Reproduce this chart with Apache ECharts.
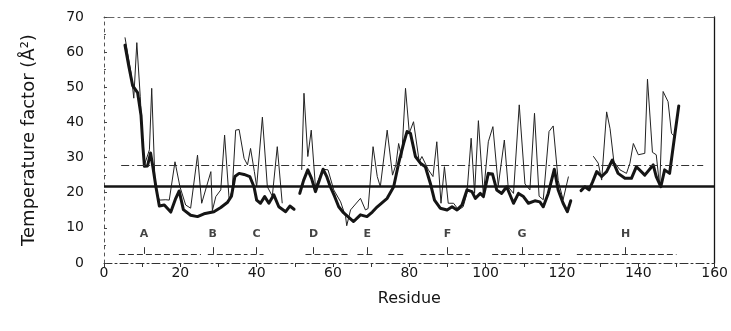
<!DOCTYPE html>
<html><head><meta charset="utf-8">
<script src="https://cdn.jsdelivr.net/npm/echarts@6/dist/echarts.min.js"></script>
<style>html,body{margin:0;padding:0;background:#fff}#c{width:731px;height:331px}</style>
</head><body><div id="c"></div>
<script>
// Main-chain temperature factor (thick line); null = gap
const mainResidue = [5.5,6.5,7.5,8.8,9.7,10.2,10.6,11.4,12.2,12.8,13.6,14.5,15.8,17.5,18.8,19.7,20.8,22.7,24.5,26.2,28.8,30.6,32.3,33.4,34.3,35.4,36.7,38.2,39.3,40,41,42.1,43.2,44.5,45.8,47.6,48.7,49.8,
  50.5,
  51.3,52.3,53.4,54.4,55.4,56.4,57.4,58.4,59.3,60.4,61.5,62.6,63.7,65.4,67.2,68.9,70.3,71.6,74.2,75.9,77.2,78.5,79.4,80.3,81.6,82.9,84.2,85.5,86.6,88.1,89.9,91.2,92.5,93.8,95.1,96.4,97.3,98.6,99.4,100.7,101.8,102.9,104.2,105.5,107.3,108.6,109.9,111.2,112.9,114.2,115.1,116.4,118,119,120.3,121.4,122.3,
  123.5,
  125,126,127.1,128,129.1,130.4,131.7,133.2,134.7,136.5,138.2,139.5,141.7,143.9,144.7,145.9,146.9,148.2,149.5,150.6];
const mainB = [62,56,50.5,48.5,42,33,27.5,27.6,31.3,27.4,21.7,16.2,16.5,14.5,18.4,20.5,15.2,13.6,13.2,14,14.6,15.8,17.2,19,24.6,25.5,25.2,24.6,21.7,17.9,17,18.9,17,19.4,16,14.6,16.2,15.3,
  null,
  19.8,23.5,26.5,24,20.3,23.5,26.7,24.5,21.7,19,16,14.5,13.4,11.8,13.7,13.2,14.5,16,18.4,21.7,28.4,34,37.4,36.9,30.3,28.4,27.4,22.7,17.9,15.6,15.1,16,15.1,16.5,20.8,20.3,18.4,19.8,18.9,25.5,25.3,20.8,19.8,21.7,17,19.8,18.9,17,17.7,17.4,16,19.8,26.7,20.8,17,14.6,17.7,
  null,
  20.6,21.7,20.8,23,26,24.6,26,29.3,25.5,24.1,24.1,27.4,25,27.9,24.6,21.7,26.5,25.5,36,44.7];

// Side-chain temperature factor (thin line); null = gap
const sideResidue = [5.5,7.1,7.8,8.6,9.5,10.5,11.9,12.5,13.4,14.5,16.2,17.1,18.6,19.9,21.4,22.7,24.5,25.6,28,28.4,29.3,30.6,31.6,32.8,33.6,34.5,35.4,36.7,37.6,38.4,39.4,40,41.5,42.8,44.1,45.4,46.7,
  49,
  51.8,52.4,53.4,54.3,55.4,57.4,58.7,60.2,62,63.3,63.6,64.6,67.2,68.5,69.2,70.5,71.6,72.4,74.2,75.6,76.5,77.2,78,79,80,81.1,82.6,83.3,85,86.2,87.2,88.3,89.2,90.2,91.6,92.9,94.1,95.1,96.2,97.1,98.1,99.4,100.7,101.9,103.3,104.9,105.9,107.3,108.8,110.3,111.6,112.8,114,115.1,116.6,117.7,119,120.3,121.7,
  125,
  128.2,129.5,130.4,131.7,132.6,133.6,135.2,136.9,137.8,138.7,140,141.7,142.4,143.7,144.7,145.6,146.5,147.8,148.7,149.5];
const sideB = [64.2,54,46.9,62.7,47.3,27.6,32.2,49.7,21.7,17.9,18,17.9,28.8,21.7,16.5,15.6,30.7,17,26,14.9,18.9,20.8,36.4,17.9,20.8,37.8,38,29.8,27.9,32.6,26,21.7,41.5,21.7,19,33.1,17,
  null,
  26.5,48.3,30.3,37.8,21.7,26.7,26.5,20.8,17.4,13.2,10.6,15.1,18.4,15.1,15.5,33.1,24.6,21.7,37.8,25,28,34,30,49.7,37,40.2,28.8,30.3,26.5,24.6,34.5,17,27.4,17,17,15.1,16,19.8,35.5,19.8,40.5,19.4,34.5,38.8,22,35,21.7,19.8,45,22.5,20.8,42.6,19,18,37.4,39,23.5,18,24.6,
  null,
  30.4,28.4,23.6,43,38.2,28.8,26.5,25.5,28.4,34,30.8,31.2,52.3,31.5,30.8,21.7,48.8,45.9,36.9,36];

// Reference levels
const meanMain = 21.8;
const meanSide = 27.8;
const meanSideFrom = 4.5, meanSideTo = 157;

// Helices
const helixNames = ['A','B','C','D','E','F','G','H'];
const helixPos = [10.5,28.5,40,54.9,69,90,109.5,136.7];
// Secondary-structure strip segments
const ssStart = [3.9,27.2,38.4,52.8,66.4,74.5,82.9,101.7,123.9];
const ssEnd   = [25.4,37.6,41.8,64.6,70.6,78.4,95.9,119.5,150];
const ssLevel = 2.6, helixTickTop = 4.5, helixLabelLevel = 8.2;

// x-axis tick labels shown
const xLabelStep = 20;

function split(xs, ys){
  const out=[]; let cur=[];
  xs.forEach((x,i)=>{ if(ys[i]==null){ if(cur.length) out.push(cur); cur=[]; } else cur.push([x,ys[i]]); });
  if(cur.length) out.push(cur);
  return out;
}

const ink = '#151515';
const font = 'DejaVu Sans';
const series = [];
split(mainResidue, mainB).forEach((seg,i)=>series.push({
  type:'line', data:seg, symbol:'none', silent:true,
  lineStyle:{color:ink,width:3,join:'round',cap:'round'}, z:3,
  markLine: i===0 ? {silent:true,symbol:'none',label:{show:false},
    data:[
      [{coord:[0,meanMain],lineStyle:{color:ink,width:2.5,type:'solid'}},{coord:[160,meanMain]}],
      [{coord:[meanSideFrom,meanSide],lineStyle:{color:'#333',width:1,type:[8,3,2,3]}},{coord:[meanSideTo,meanSide]}]
    ]} : undefined
}));
split(sideResidue, sideB).forEach(seg=>series.push({
  type:'line', data:seg, symbol:'none', silent:true,
  lineStyle:{color:'#222',width:1}, z:2
}));
series.push({
  type:'lines', coordinateSystem:'cartesian2d', silent:true,
  lineStyle:{color:'#333',width:1,type:[6,3],opacity:1},
  data: ssStart.map((s,i)=>({coords:[[s,ssLevel],[ssEnd[i],ssLevel]]}))
    .concat(helixPos.map(p=>({coords:[[p,ssLevel],[p,helixTickTop]],lineStyle:{type:'solid'}})))
});
series.push({
  type:'scatter', symbolSize:0, silent:true,
  data: helixPos.map((p,i)=>({value:[p,helixLabelLevel],name:helixNames[i]})),
  label:{show:true,position:'inside',formatter:p=>p.name,color:ink,fontFamily:font,fontSize:11,fontWeight:'bold'}
});

const chart = echarts.init(document.getElementById('c'),null,{renderer:'canvas'});
chart.setOption({
  animation:false,
  backgroundColor:'#fff',
  grid:{left:104,right:16,top:17,bottom:68},
  xAxis:[{
    type:'value',min:0,max:160,interval:10,
    name:'Residue',nameLocation:'middle',nameGap:28,
    nameTextStyle:{fontFamily:font,fontSize:16,color:ink},
    axisLine:{onZero:false,lineStyle:{color:'#333',width:1,type:[8,3,2,3]}},
    axisTick:{show:true,inside:false,length:4,lineStyle:{color:'#333'}},
    axisLabel:{margin:3,fontFamily:font,fontSize:14,color:ink,formatter:v=>v%xLabelStep===0?String(v):''},
    splitLine:{show:false}
  },{
    type:'value',min:0,max:160,position:'top',
    axisLine:{show:true,onZero:false,lineStyle:{color:'#666',width:1,type:[10,4,2,4]}},
    axisTick:{show:false},axisLabel:{show:false},splitLine:{show:false}
  }],
  yAxis:[{
    type:'value',min:0,max:70,interval:10,
    name:'Temperature factor (Å²)',nameLocation:'middle',nameGap:66,
    nameTextStyle:{fontFamily:font,fontSize:18,color:ink},
    axisLine:{show:true,onZero:false,lineStyle:{color:'#555',width:1,type:[3,4]}},
    axisTick:{show:true,inside:true,length:3,lineStyle:{color:'#444'}},
    minorTick:{show:true,splitNumber:2,length:2,lineStyle:{color:'#555'}},
    axisLabel:{margin:20,fontFamily:font,fontSize:14,color:ink},
    splitLine:{show:false}
  },{
    type:'value',min:0,max:70,position:'right',
    axisLine:{show:true,onZero:false,lineStyle:{color:ink,width:1.3}},
    axisTick:{show:false},axisLabel:{show:false},splitLine:{show:false}
  }],
  series
});
</script>
</body></html>
